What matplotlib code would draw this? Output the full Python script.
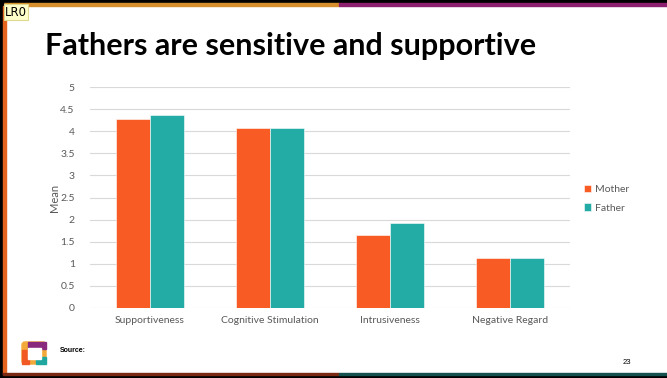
import matplotlib
matplotlib.use("Agg")
import matplotlib.pyplot as plt
import matplotlib.patches as patches
import numpy as np

plt.rcParams["font.family"] = ["Lato", "DejaVu Sans"]

# Mean scores per parenting dimension
categories = ["Supportiveness", "Cognitive Stimulation", "Intrusiveness", "Negative Regard"]
mother = [4.28, 4.08, 1.64, 1.13]
father = [4.37, 4.08, 1.92, 1.13]
series_names = ["Mother", "Father"]
y_ticks = [0, 0.5, 1, 1.5, 2, 2.5, 3, 3.5, 4, 4.5, 5]
y_tick_labels = ["0", "0.5", "1", "1.5", "2", "2.5", "3", "3.5", "4", "4.5", "5"]

ORANGE = "#F95B24"
TEAL = "#23ABA6"
GRID = "#D9D9D9"
TEXT = "#595959"

W, H = 667, 378
fig = plt.figure(figsize=(W / 100, H / 100), dpi=100)
fig.patch.set_facecolor("white")

# Slide background layer in pixel coordinates
bg = fig.add_axes([0, 0, 1, 1], zorder=0)
bg.set_xlim(0, W)
bg.set_ylim(H, 0)
bg.axis("off")

# Frame: black outer border with coloured accent strips
bg.add_patch(patches.Rectangle((0, 0), W, 3, color="black"))
bg.add_patch(patches.Rectangle((0, 3), 339, 3, color="#D68F2C"))
bg.add_patch(patches.Rectangle((339, 3), W - 339, 3, color="#8C1F6E"))
bg.add_patch(patches.Rectangle((0, 0), 3, H, color="black"))
bg.add_patch(patches.Rectangle((3, 6), 3, H - 9, color="#E5641E"))
bg.add_patch(patches.Rectangle((0, H - 3), W, 3, color="black"))
bg.add_patch(patches.Rectangle((3, H - 5), 336, 2, color="#7A2A12"))
bg.add_patch(patches.Rectangle((339, H - 5), W - 339, 2, color="#14524F"))

# Slide tag in the corner
bg.text(5, 12, "LR0", fontsize=8.5, family=["DejaVu Sans"], va="center", ha="left",
        color="black",
        bbox=dict(boxstyle="square,pad=0.12", facecolor="#FFFFCC", edgecolor="#E0D890", lw=0.8))

# Title
bg.text(45, 46, "Fathers are sensitive and supportive", fontsize=22,
        fontweight="bold", color="black", va="center", ha="left")

# Logo: four coloured strips around a white square
lx, ly = 22, 342
bg.add_patch(patches.FancyBboxPatch((lx, ly), 24, 22, boxstyle="round,pad=0,rounding_size=3",
                                    color="#F3A93A"))
bg.add_patch(patches.Rectangle((lx + 6, ly), 18, 7, color="#8A2A7E"))
bg.add_patch(patches.Rectangle((lx, ly + 8), 7, 14, color="#F15A24"))
bg.add_patch(patches.Rectangle((lx + 14, ly + 15), 10, 7, color="#1FA79F"))
bg.add_patch(patches.Rectangle((lx + 6, ly + 6), 13, 11, color="white"))

bg.text(60, 351, "Source:", fontsize=5, fontweight="bold", family=["Liberation Sans"],
        va="center", ha="left", color="black")
bg.text(627, 362, "23", fontsize=5.5, family=["Liberation Sans"], va="center",
        ha="center", color="black")

# Bar chart
ax = fig.add_axes([90 / W, (H - 307.7) / H, 480 / W, 220.4 / H], zorder=1)
ax.patch.set_alpha(0)
x = np.arange(len(categories))
width = 0.285
ax.bar(x - width / 2, mother, width, color=ORANGE, edgecolor="white", linewidth=0.4,
       label=series_names[0], zorder=3)
ax.bar(x + width / 2, father, width, color=TEAL, edgecolor="white", linewidth=0.4,
       label=series_names[1], zorder=3)

ax.set_xlim(-0.5, len(categories) - 0.5)
ax.set_ylim(0, 5)
ax.set_yticks(y_ticks)
ax.set_yticklabels(y_tick_labels)
ax.set_xticks(x)
ax.set_xticklabels(categories)
ax.tick_params(axis="both", length=0, labelsize=7.5, colors=TEXT)
ax.tick_params(axis="y", pad=11)
ax.tick_params(axis="x", pad=6)
ax.grid(axis="y", color=GRID, linewidth=0.8, zorder=0)
for side in ax.spines.values():
    side.set_visible(False)
ax.set_ylabel("Mean", fontsize=8, color=TEXT, labelpad=0)

ax.legend(loc="center left", bbox_to_anchor=(1.01, 0.495), frameon=False, fontsize=7.5,
          labelcolor=TEXT, handlelength=0.7, handleheight=0.7, handletextpad=0.3,
          labelspacing=0.9)

fig.savefig("out.png", dpi=100)
